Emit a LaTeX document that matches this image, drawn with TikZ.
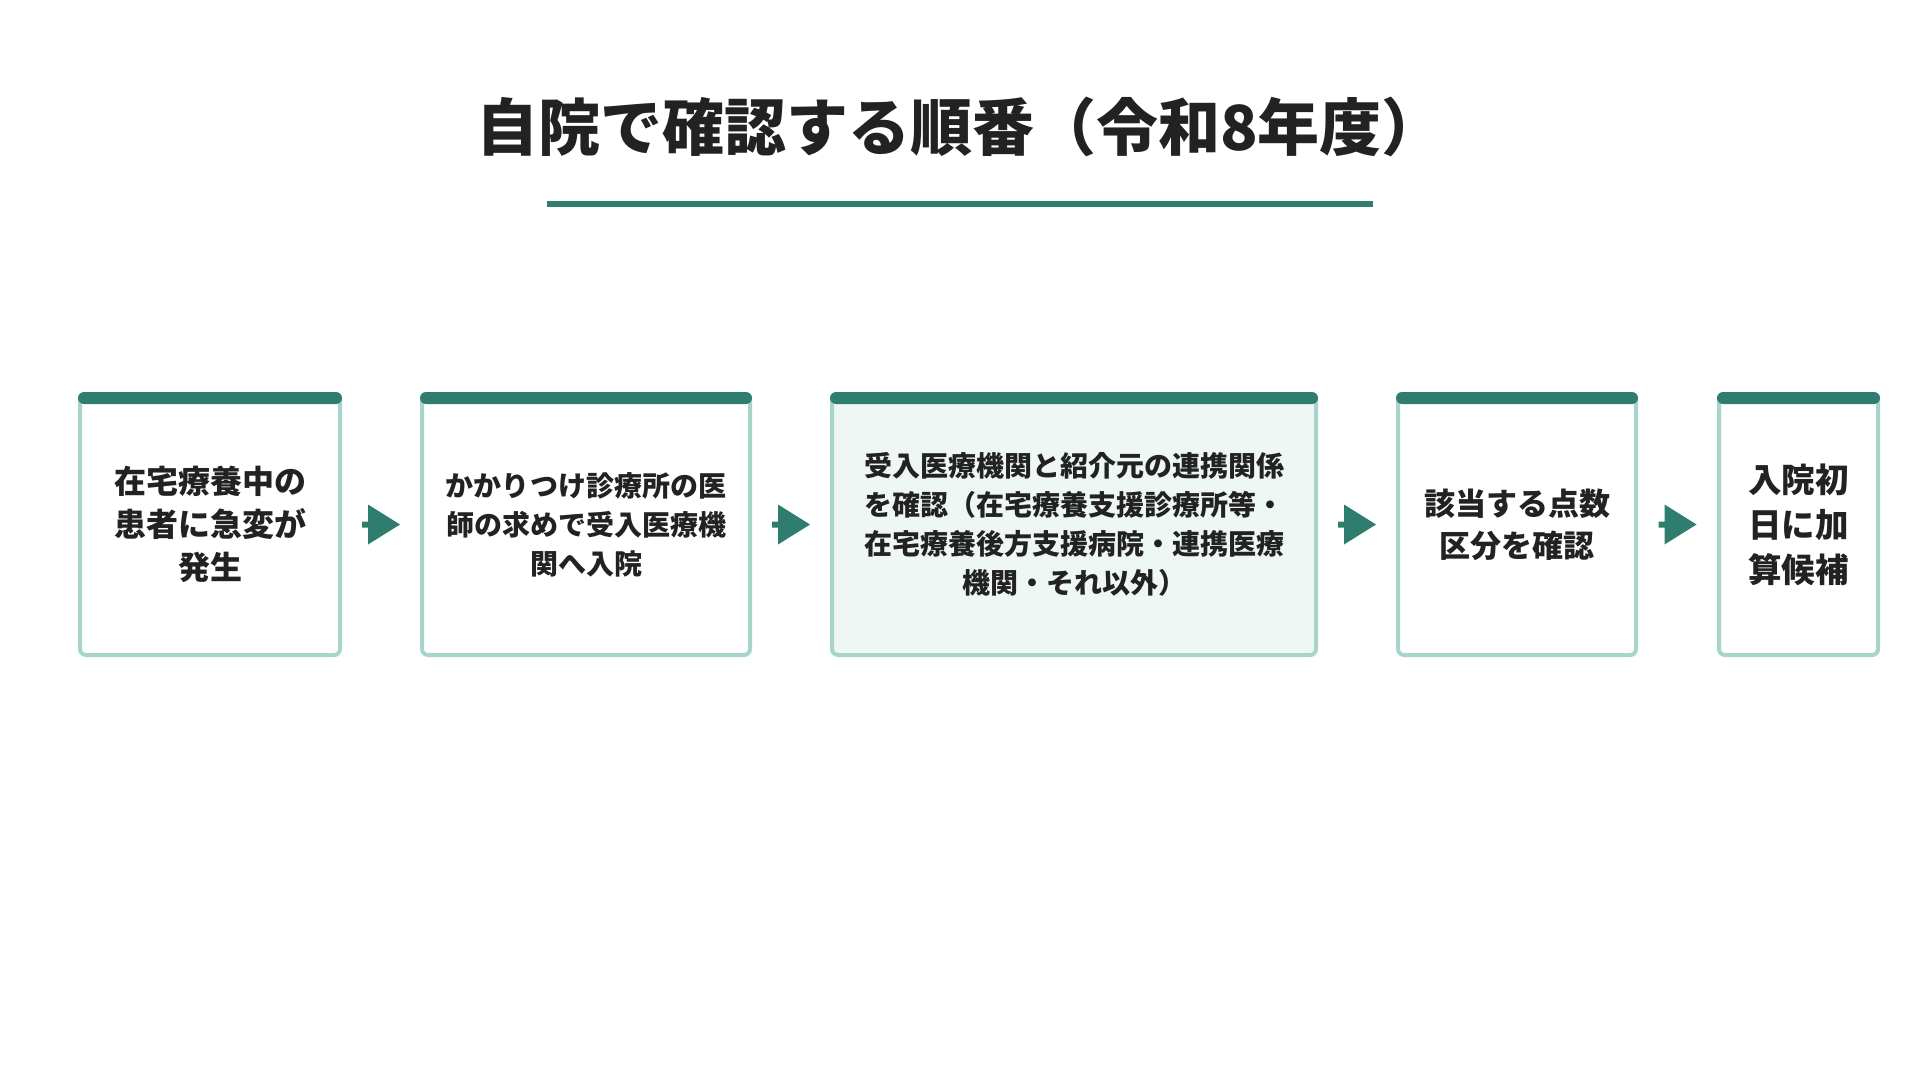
\documentclass[tikz,border=0pt]{standalone}
\usepackage{fontspec}
\setmainfont{Noto Sans CJK JP}
\usetikzlibrary{calc}
\definecolor{barc}{HTML}{2E7D6E}
\definecolor{borderc}{HTML}{A8D5CB}
\definecolor{hlfill}{HTML}{EEF7F3}
\definecolor{txt}{HTML}{222222}
\tikzset{
  stepbox/.style={draw=borderc, line width=4pt, rounded corners=6pt, fill=white,
    inner sep=0pt, text=txt, align=center, minimum height=261pt},
  topbar/.style={fill=barc, rounded corners=6pt},
  flowarrow/.style={fill=barc},
}
\newcommand{\stepbar}[1]{\fill[topbar] (#1.north west) rectangle ($(#1.north east)+(0,12)$);}
\newcommand{\steparrow}[1]{\fill[flowarrow] ($(#1)+(-19,-3)$) -- ($(#1)+(-13,-3)$) -- ($(#1)+(-13,-20)$) -- ($(#1)+(19,0)$) -- ($(#1)+(-13,20)$) -- ($(#1)+(-13,3)$) -- ($(#1)+(-19,3)$) -- cycle;}
\begin{document}
\begin{tikzpicture}[x=1pt,y=-1pt]
\useasboundingbox[fill=white] (0,0) rectangle (1920,1080);

\node[font=\fontsize{62}{70}\selectfont\bfseries, text=txt] (title) at (960,127) {自院で確認する順番（令和8年度）};
\fill[barc] (547,201) rectangle (1373,207);

\node[stepbox, minimum width=260pt, font=\fontsize{32}{43}\selectfont\bfseries] (b1) at (210,524.5)
  {在宅療養中の\\患者に急変が\\発生};
\node[stepbox, minimum width=328pt, font=\fontsize{28}{39}\selectfont\bfseries] (b2) at (586,524.5)
  {かかりつけ診療所の医\\師の求めで受入医療機\\関へ入院};
\node[stepbox, fill=hlfill, minimum width=484pt, font=\fontsize{28}{39}\selectfont\bfseries] (b3) at (1074,524.5)
  {受入医療機関と紹介元の連携関係\\を確認（在宅療養支援診療所等・\\在宅療養後方支援病院・連携医療\\機関・それ以外）};
\node[stepbox, minimum width=238pt, font=\fontsize{31}{42}\selectfont\bfseries] (b4) at (1517,524.5)
  {該当する点数\\区分を確認};
\node[stepbox, minimum width=159pt, font=\fontsize{33.5}{45}\selectfont\bfseries] (b5) at (1798.5,524.5)
  {入院初\\日に加\\算候補};

\stepbar{b1}\stepbar{b2}\stepbar{b3}\stepbar{b4}\stepbar{b5}

\coordinate (m1) at ($(b1.east)!0.5!(b2.west)$);
\coordinate (m2) at ($(b2.east)!0.5!(b3.west)$);
\coordinate (m3) at ($(b3.east)!0.5!(b4.west)$);
\coordinate (m4) at ($(b4.east)!0.5!(b5.west)$);
\steparrow{m1}\steparrow{m2}\steparrow{m3}\steparrow{m4}
\end{tikzpicture}
\end{document}
